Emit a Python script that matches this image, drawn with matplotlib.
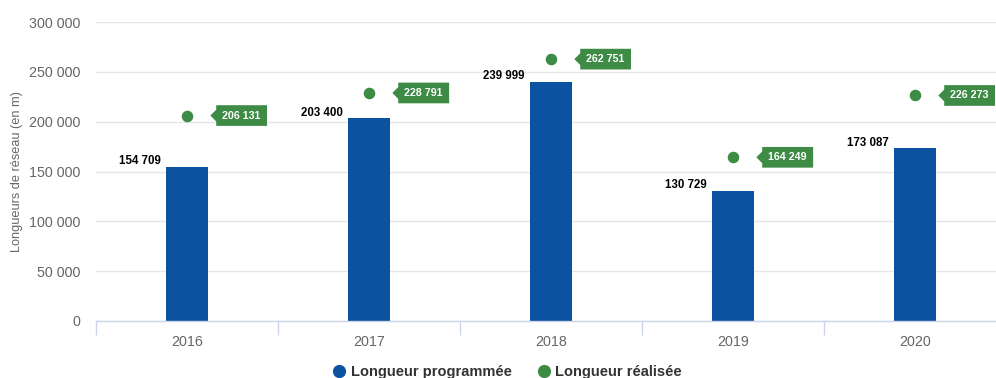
import matplotlib.pyplot as plt
from matplotlib.lines import Line2D
from matplotlib.path import Path
from matplotlib.ticker import FuncFormatter, MultipleLocator, FixedLocator

plt.rcParams['font.family'] = ['Liberation Sans', 'DejaVu Sans']

annees = ["2016", "2017", "2018", "2019", "2020"]
programmee = [154709, 203400, 239999, 130729, 173087]
realisee = [206131, 228791, 262751, 164249, 226273]

BLEU = "#0b52a1"
VERT = "#3d8b45"
GRIS = "#666666"
AXE = "#ccd6eb"


def fmt_milliers(v):
    return f"{int(round(v)):,}".replace(",", " ")


def callout(x0, y0, width, height, mutation_size):
    # rectangle avec une petite pointe à gauche
    px = mutation_size * 0.58
    py = mutation_size * 0.5
    tip = mutation_size * 0.55
    x0, y0 = x0 - px, y0 - py
    x1, y1 = x0 + width + 2 * px, y0 + height + 2 * py
    ym = (y0 + y1) / 2
    verts = [(x0, y0), (x1, y0), (x1, y1), (x0, y1),
             (x0, ym + tip), (x0 - tip, ym), (x0, ym - tip), (x0, y0)]
    codes = [Path.MOVETO] + [Path.LINETO] * 6 + [Path.CLOSEPOLY]
    return Path(verts, codes)


fig = plt.figure(figsize=(9.96, 3.78), dpi=100)
ax = fig.add_axes([96 / 996, 57 / 378, 910 / 996, 299 / 378])

x = list(range(len(annees)))
largeur = 0.235
ax.bar(x, programmee, width=largeur, color=BLEU, zorder=2)
ax.plot(x, realisee, "o", color=VERT, markersize=7.3, zorder=3)

for xi, v in zip(x, programmee):
    ax.annotate(fmt_milliers(v), (xi - largeur / 2, v), xytext=(-3.5, 2),
                textcoords="offset points", ha="right", va="baseline",
                fontsize=8.3, fontweight="bold", color="#000000")

for xi, v in zip(x, realisee):
    ax.annotate(fmt_milliers(v), (xi, v), xytext=(25.5, 0),
                textcoords="offset points", ha="left", va="center",
                fontsize=7.7, fontweight="bold", color="white", zorder=4,
                bbox=dict(boxstyle=callout, fc=VERT, ec="none"))

ax.set_xlim(-0.5, len(annees) - 0.5)
ax.set_ylim(0, 300000)
ax.yaxis.set_major_locator(MultipleLocator(50000))
ax.yaxis.set_major_formatter(FuncFormatter(lambda v, p: fmt_milliers(v)))
ax.set_xticks(x)
ax.set_xticklabels(annees)
ax.xaxis.set_minor_locator(FixedLocator([i - 0.5 for i in range(len(annees) + 1)]))

ax.grid(axis="y", color="#e6e6e6", linewidth=1, zorder=0)
for s in ["top", "right", "left"]:
    ax.spines[s].set_visible(False)
ax.spines["bottom"].set_color(AXE)
ax.spines["bottom"].set_linewidth(1)

ax.tick_params(axis="y", length=0, labelsize=10.3, labelcolor=GRIS, pad=11)
ax.tick_params(axis="x", which="major", length=0, labelsize=10.3, labelcolor=GRIS, pad=10)
ax.tick_params(axis="x", which="minor", length=10, width=1, color=AXE, direction="out")

ax.set_ylabel("Longueurs de réseau (en m)", fontsize=9.2, color=GRIS)
ax.yaxis.set_label_coords(-73 / 910, 0.5)

poignees = [
    Line2D([], [], marker="o", linestyle="none", color=BLEU, markersize=8.5),
    Line2D([], [], marker="o", linestyle="none", color=VERT, markersize=8.5),
]
leg = fig.legend(poignees, ["Longueur programmée", "Longueur réalisée"],
                 loc="center", bbox_to_anchor=(506 / 996, 1 - 372 / 378),
                 ncol=2, frameon=False, handletextpad=0.2, columnspacing=1.6,
                 handlelength=1.2, prop={"weight": "bold", "size": 10.5})
for t in leg.get_texts():
    t.set_color("#333333")

fig.savefig("out.png", dpi=100)
